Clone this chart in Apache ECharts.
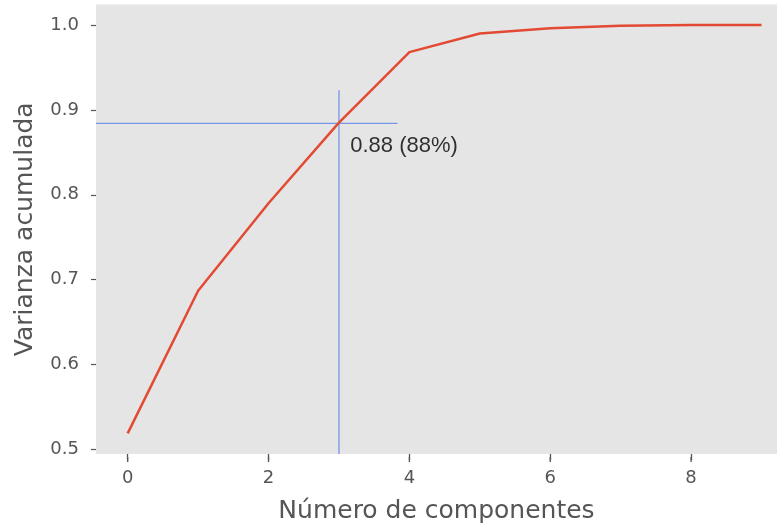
<!DOCTYPE html>
<html>
<head>
<meta charset="utf-8">
<script src="https://cdn.jsdelivr.net/npm/echarts@6/dist/echarts.min.js"></script>
<style>
html,body{margin:0;padding:0;background:#fff;}
#chart{width:777px;height:529px;}
</style>
</head>
<body>
<div id="chart"></div>
<script>
const componentes = [0, 1, 2, 3, 4, 5, 6, 7, 8, 9];
const varianza = [0.519, 0.687, 0.790, 0.885, 0.968, 0.990, 0.996, 0.999, 1.0, 1.0];
const xTicks = [0, 2, 4, 6, 8];
const yTicks = [0.5, 0.6, 0.7, 0.8, 0.9, 1.0];
const xRange = [-0.45, 9.22];
const yRange = [0.4947, 1.0241];
const corteX = 3;
const corteY = 0.884;
const vLineTop = 0.923;
const hLineEnd = 3.83;
const etiqueta = '0.88 (88%)';
const etiquetaPos = [3.16, 0.858];

const chart = echarts.init(document.getElementById('chart'), null, {renderer: 'canvas'});
const gray = '#555555';
chart.setOption({
  animation: false,
  backgroundColor: '#ffffff',
  grid: {left: 96, top: 4.5, right: 0, height: 451, backgroundColor: '#E5E5E5', show: true, borderWidth: 0},
  xAxis: {
    type: 'value', min: xRange[0], max: xRange[1], position: 'bottom',
    name: 'Número de componentes', nameLocation: 'middle', nameGap: 45,
    nameTextStyle: {fontFamily: 'DejaVu Sans', fontSize: 25, color: gray},
    axisLine: {show: false, onZero: false},
    splitLine: {show: false},
    axisTick: {show: true, inside: false, length: 6, lineStyle: {color: gray, width: 1.3}, customValues: xTicks},
    axisLabel: {fontFamily: 'DejaVu Sans', fontSize: 18, color: gray, margin: 15, customValues: xTicks,
      formatter: v => String(v)}
  },
  yAxis: {
    type: 'value', min: yRange[0], max: yRange[1], position: 'left',
    name: 'Varianza acumulada', nameLocation: 'middle', nameGap: 58,
    nameTextStyle: {fontFamily: 'DejaVu Sans', fontSize: 25, color: gray},
    axisLine: {show: false, onZero: false},
    splitLine: {show: false},
    axisTick: {show: true, inside: false, length: 5, lineStyle: {color: gray, width: 1.2}, customValues: yTicks},
    axisLabel: {fontFamily: 'DejaVu Sans', fontSize: 18, color: gray, margin: 17, customValues: yTicks,
      formatter: v => v.toFixed(1)}
  },
  series: [
    {
      type: 'line', data: componentes.map((c, i) => [c, varianza[i]]),
      showSymbol: false, symbol: 'none',
      lineStyle: {color: '#E24A33', width: 2.5}, z: 3
    },
    {
      type: 'line', data: [[corteX, yRange[0]], [corteX, vLineTop]],
      showSymbol: false, symbol: 'none',
      lineStyle: {color: '#7396E6', width: 1.3}, z: 2
    },
    {
      type: 'line', data: [[xRange[0], corteY], [hLineEnd, corteY]],
      showSymbol: false, symbol: 'none',
      lineStyle: {color: '#7396E6', width: 1.3}, z: 2
    },
    {
      type: 'custom', data: xTicks.map(v => [v, yRange[0]]), clip: false, silent: true, z: 5,
      renderItem: function (params, api) {
        const p = api.coord([api.value(0), api.value(1)]);
        return {
          type: 'line',
          shape: {x1: p[0], y1: p[1] + 3, x2: p[0], y2: p[1] + 8},
          style: {stroke: gray, lineWidth: 1.3}
        };
      }
    },
    {
      type: 'scatter', data: [etiquetaPos], symbolSize: 0,
      label: {show: true, position: [0, 0], align: 'left', verticalAlign: 'middle',
        formatter: etiqueta, fontFamily: 'Liberation Sans', fontSize: 22, color: '#000000',
        textBorderWidth: 0}
    }
  ]
});
</script>
</body>
</html>
